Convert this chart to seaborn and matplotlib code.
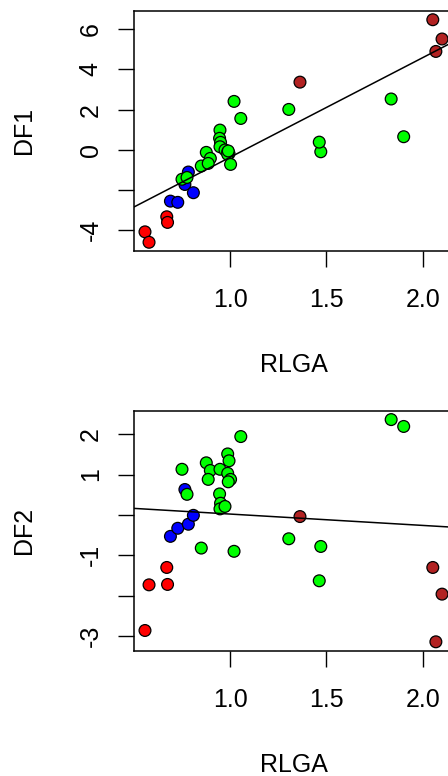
import numpy as np
import pandas as pd
import matplotlib
matplotlib.use("Agg")
import matplotlib.pyplot as plt
import seaborn as sns

# ---- data ----
group = (["G1"] * 4) + (["G2"] * 5) + (["G3"] * 23) + (["G4"] * 4)

rlga = [
    # G1 (red)
    0.559, 0.580, 0.672, 0.676,
    # G2 (blue)
    0.691, 0.729, 0.766, 0.784, 0.810,
    # G3 (green)
    0.751, 0.777, 0.851, 0.877, 0.898, 0.887, 0.948, 0.946, 0.951, 0.948,
    0.974, 0.988, 0.995, 0.988, 1.003, 0.991, 1.021, 1.056, 1.305, 1.471,
    1.463, 1.836, 1.901,
    # G4 (brown)
    1.363, 2.052, 2.100, 2.068,
]

df1 = [
    -4.09, -4.61, -3.34, -3.62,
    -2.56, -2.62, -1.73, -1.11, -2.14,
    -1.47, -1.38, -0.81, -0.13, -0.43, -0.68, 0.98, 0.57, 0.37, 0.15,
    -0.01, -0.11, -0.19, -0.23, -0.73, -0.06, 2.41, 1.56, 2.01, -0.10,
    0.38, 2.53, 0.65,
    3.37, 6.48, 5.52, 4.90,
]

df2 = [
    -2.86, -1.73, -1.30, -1.72,
    -0.53, -0.33, 0.63, -0.23, -0.01,
    1.13, 0.51, -0.82, 1.29, 1.10, 0.88, 1.13, 0.52, 0.29, 0.15,
    0.21, 1.51, 1.34, 1.03, 0.88, 0.82, -0.90, 1.94, -0.59, -0.78,
    -1.63, 2.36, 2.19,
    -0.04, -1.30, -1.96, -3.14,
]

group_colors = {"G1": "#FF0000", "G2": "#0000FF", "G3": "#00FF00", "G4": "#B22222"}

xlim = (0.502, 2.162)
df1_lim = (-5.03, 6.93)
df2_lim = (-3.36, 2.58)
x_ticks = [1.0, 1.5, 2.0]
x_ticklabels = ["1.0", "1.5", "2.0"]
df1_ticks = [-4, -2, 0, 2, 4, 6]
df1_ticklabels = ["-4", "", "0", "2", "4", "6"]
df2_ticks = [-3, -2, -1, 0, 1, 2]
df2_ticklabels = ["-3", "", "-1", "", "1", "2"]

data = pd.DataFrame({"RLGA": rlga, "DF1": df1, "DF2": df2, "group": group})

# ---- style ----
sns.set_style("white")
plt.rcParams["font.family"] = ["Liberation Sans", "DejaVu Sans"]
plt.rcParams["text.color"] = "black"
plt.rcParams["axes.labelcolor"] = "black"
plt.rcParams["xtick.color"] = "black"
plt.rcParams["ytick.color"] = "black"

W, H = 448, 776
fig = plt.figure(figsize=(W / 100, H / 100), dpi=100)

def make_axes(top_px, bottom_px):
    left_px, right_px = 134, 454
    return fig.add_axes([left_px / W, (H - bottom_px) / H,
                         (right_px - left_px) / W, (bottom_px - top_px) / H])

ax1 = make_axes(10.7, 250.7)
ax2 = make_axes(410.7, 650.7)

panels = [
    (ax1, "DF1", df1_lim, df1_ticks, df1_ticklabels),
    (ax2, "DF2", df2_lim, df2_ticks, df2_ticklabels),
]

for ax, ycol, ylim, yt, ytl in panels:
    ax.set_xlim(*xlim)
    ax.set_ylim(*ylim)
    sns.regplot(data=data, x="RLGA", y=ycol, ax=ax, scatter=False, ci=None,
                truncate=False, color="black",
                line_kws={"linewidth": 1.1, "zorder": 5})
    sns.scatterplot(data=data, x="RLGA", y=ycol, hue="group",
                    palette=group_colors, ax=ax, s=72, edgecolor="black",
                    linewidth=0.9, legend=False, zorder=3)
    ax.set_xlim(*xlim)
    ax.set_ylim(*ylim)

    ax.set_xticks(x_ticks)
    ax.set_xticklabels(x_ticklabels)
    ax.set_yticks(yt)
    ax.set_yticklabels(ytl)
    ax.tick_params(axis="both", direction="out", length=11.5, width=1.0,
                   labelsize=18, colors="black", labelcolor="black",
                   left=True, bottom=True)
    ax.tick_params(axis="x", pad=15.5)
    ax.tick_params(axis="y", pad=11)
    plt.setp(ax.get_yticklabels(), rotation=90, va="center")
    for sp in ax.spines.values():
        sp.set_visible(True)
        sp.set_linewidth(1.1)
        sp.set_color("black")

    ax.set_xlabel("RLGA", fontsize=18, color="black")
    ax.set_ylabel(ycol, fontsize=18, color="black")
    ax.xaxis.set_label_coords(0.5, -0.425)
    ax.yaxis.set_label_coords(-0.305, 0.5)
    ax.grid(False)

fig.savefig("out.png", dpi=100, facecolor="white")
